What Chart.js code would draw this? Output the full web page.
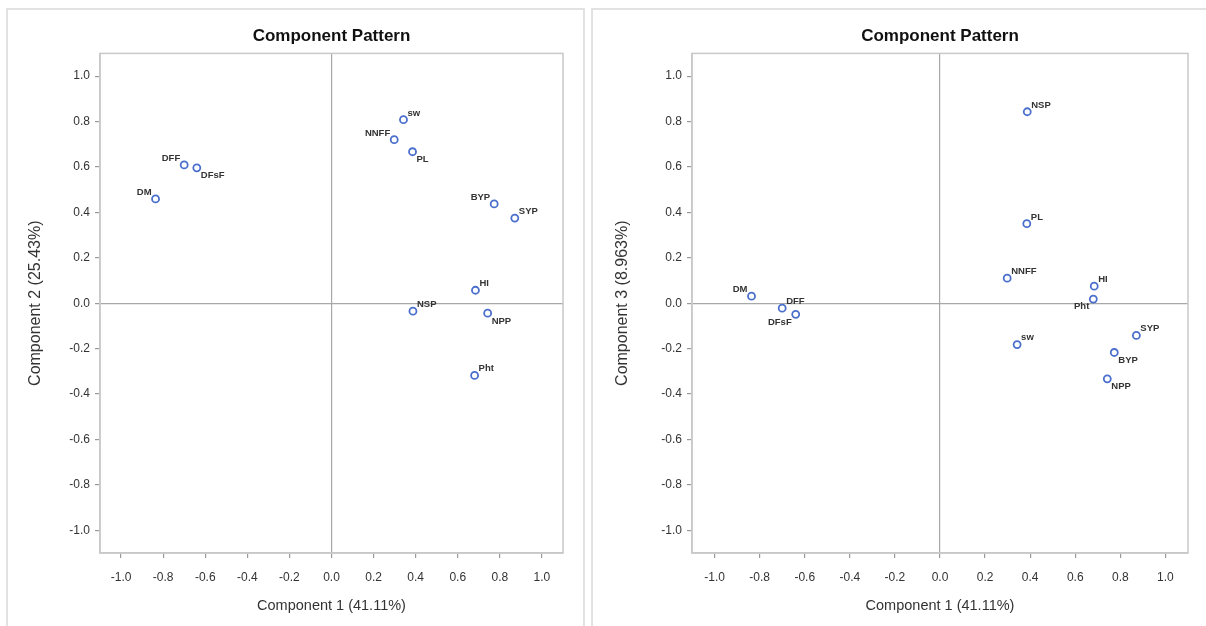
<!DOCTYPE html>
<html>
<head>
<meta charset="utf-8">
<script src="https://cdn.jsdelivr.net/npm/chart.js@4"></script>
<style>
  body { margin: 0; background: #fff; width: 1206px; height: 626px; overflow: hidden; position: relative; font-family: "Liberation Sans", Arial, sans-serif; }
  .panel { position: absolute; top: 8px; border: 2px solid #e2e2e2; background: #fff; }
  #p1 { left: 6px; width: 575px; height: 620px; }
  #p2 { left: 591px; width: 620px; height: 620px; }
  canvas { position: absolute; top: 0; left: 0; }
</style>
</head>
<body>
<div class="panel" id="p1"><canvas id="c1" width="575" height="612"></canvas></div>
<div class="panel" id="p2"><canvas id="c2" width="612" height="612"></canvas></div>
<script>
const varNames = ['DM', 'DFF', 'DFsF', 'sw', 'NNFF', 'PL', 'BYP', 'SYP', 'HI', 'NSP', 'NPP', 'Pht'];
const comp1 = [-0.836, -0.70, -0.64, 0.342, 0.298, 0.385, 0.773, 0.871, 0.684, 0.387, 0.742, 0.68];
const comp2 = [0.459, 0.609, 0.596, 0.808, 0.72, 0.667, 0.437, 0.375, 0.057, -0.035, -0.044, -0.318];
const comp3 = [0.031, -0.022, -0.049, -0.182, 0.11, 0.35, -0.217, -0.142, 0.075, 0.843, -0.333, 0.018];
const tickVals = [-1.0, -0.8, -0.6, -0.4, -0.2, 0.0, 0.2, 0.4, 0.6, 0.8, 1.0];

// where each label sits relative to its marker
const labelPos12 = ['tl', 'tl', 'br', 'tr', 'tl', 'br', 'tl', 'tr', 'tr', 'tr', 'br', 'tr'];
const labelPos13 = ['tl', 'tr', 'bl', 'tr', 'tr', 'tr', 'br', 'tr', 'tr', 'tr', 'br', 'bl'];

const textColor = '#333333';
const frameColor = '#c8c8c8';
const markerColor = '#4a6fcc';
const fontFamily = '"Liberation Sans", Arial, sans-serif';

const pointLabels = {
    id: 'pointLabels',
    afterDatasetsDraw(chart, args, opts) {
        const ctx = chart.ctx;
        const meta = chart.getDatasetMeta(0);
        ctx.save();
        ctx.fillStyle = textColor;
        ctx.font = 'bold 9.5px ' + fontFamily;
        meta.data.forEach((pt, i) => {
            const pos = opts.positions[i];
            const dx = pos[1] === 'r' ? 4 : -4;
            const dy = pos[0] === 't' ? -2 : 3;
            ctx.textAlign = pos[1] === 'r' ? 'left' : 'right';
            ctx.textBaseline = pos[0] === 't' ? 'bottom' : 'top';
            ctx.fillText(varNames[i], pt.x + dx, pt.y + dy);
        });
        ctx.restore();
    }
};

const frame = {
    id: 'frame',
    beforeDatasetsDraw(chart) {
        const a = chart.chartArea;
        const ctx = chart.ctx;
        ctx.save();
        ctx.strokeStyle = frameColor;
        ctx.lineWidth = 1.5;
        ctx.strokeRect(a.left, a.top, a.right - a.left, a.bottom - a.top);
        ctx.restore();
    }
};

function makeAxis(title, horizontal, size, titlePad) {
    return {
        type: 'linear',
        min: -1.1,
        max: 1.1,
        afterBuildTicks: (scale) => { scale.ticks = tickVals.map(v => ({ value: v })); },
        afterFit: (scale) => {
            if (horizontal) scale.height = size; else scale.width = size;
        },
        border: { display: true, color: frameColor, width: 1.5 },
        grid: {
            color: (c) => c.tick && c.tick.value === 0 ? '#a8a8a8' : 'rgba(0,0,0,0)',
            tickColor: '#9a9a9a',
            tickLength: 5,
            lineWidth: 1.2
        },
        ticks: {
            color: textColor,
            font: { family: fontFamily, size: 12 },
            padding: horizontal ? 12 : 5,
            maxRotation: 0,
            callback: (v) => v.toFixed(1)
        },
        title: {
            display: true,
            text: title,
            color: textColor,
            font: { family: fontFamily, size: horizontal ? 14.5 : 16 },
            padding: titlePad
        }
    };
}

function makeChart(canvasId, yValues, yTitle, positions, yWidth, rightPad, yTitlePad) {
    const pts = comp1.map((x, i) => ({ x: x, y: yValues[i] }));
    return new Chart(document.getElementById(canvasId), {
        type: 'scatter',
        data: {
            datasets: [{
                label: 'loadings',
                data: pts,
                pointStyle: 'circle',
                pointRadius: 3.5,
                pointBorderWidth: 1.8,
                pointBorderColor: markerColor,
                pointBackgroundColor: '#ffffff'
            }]
        },
        options: {
            responsive: false,
            animation: false,
            layout: { padding: { left: 0, right: rightPad, top: 0, bottom: 0 } },
            scales: {
                x: makeAxis('Component 1 (41.11%)', true, 69, { top: 4, bottom: 7 }),
                y: makeAxis(yTitle, false, yWidth, { top: yTitlePad, bottom: 4 })
            },
            plugins: {
                legend: { display: false },
                tooltip: { enabled: false },
                title: {
                    display: true,
                    fullSize: false,
                    text: 'Component Pattern',
                    color: '#111111',
                    font: { family: fontFamily, size: 17, weight: 'bold' },
                    padding: { top: 16, bottom: 7 }
                },
                pointLabels: { positions: positions }
            }
        },
        plugins: [frame, pointLabels]
    });
}

makeChart('c1', comp2, 'Component 2 (25.43%)', labelPos12, 92, 20, 18);
makeChart('c2', comp3, 'Component 3 (8.963%)', labelPos13, 99, 17, 20);
</script>
</body>
</html>
